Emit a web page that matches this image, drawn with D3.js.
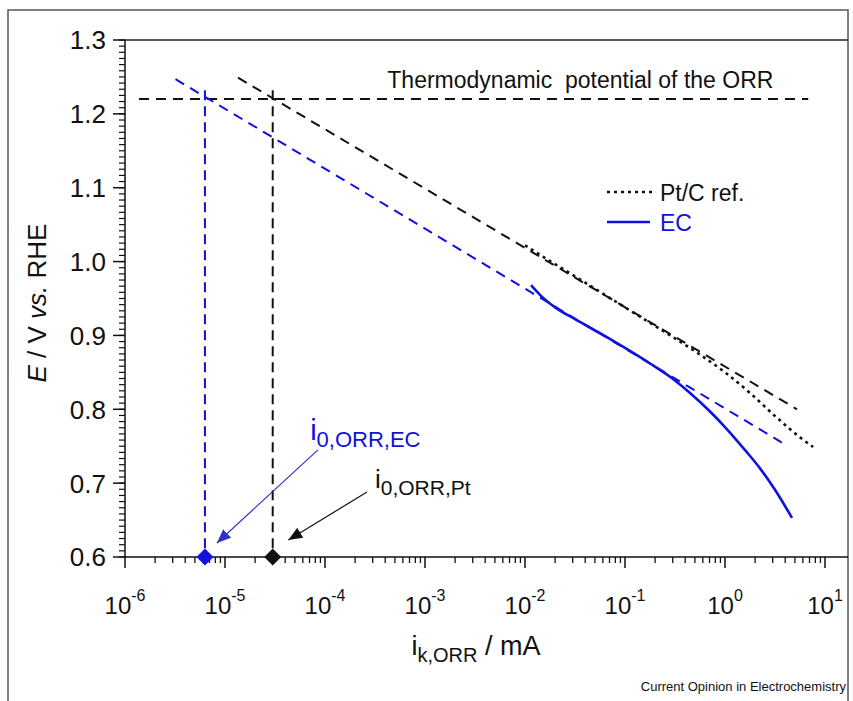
<!DOCTYPE html>
<html>
<head>
<meta charset="utf-8">
<script src="https://cdn.jsdelivr.net/npm/d3@7"></script>
<style>
  body { margin: 0; background: #fff; }
  svg text { font-family: "Liberation Sans", Arial, sans-serif; }
</style>
</head>
<body>
<div id="chart"></div>
<script>
// Pt/C reference, measured (dotted)
var ptCurrent = [0.0100, 0.0158, 0.0316, 0.0562, 0.100, 0.178, 0.316, 0.562, 1.00, 1.78, 3.16, 5.62, 7.6];
var ptPotential = [1.022, 1.005, 0.980, 0.959, 0.938, 0.917, 0.896, 0.874, 0.850, 0.822, 0.791, 0.762, 0.749];

// EC catalyst, measured (solid)
var ecCurrent = [0.0115, 0.0141, 0.0200, 0.0316, 0.0562, 0.100, 0.178, 0.282, 0.447, 0.708, 1.00, 1.58, 2.24, 3.16, 4.68];
var ecPotential = [0.968, 0.955, 0.938, 0.922, 0.903, 0.883, 0.862, 0.844, 0.822, 0.797, 0.776, 0.745, 0.720, 0.691, 0.653];

// Tafel extrapolations (dashed)
var tafelPtCurrent = [1.35e-5, 5.25];
var tafelPtPotential = [1.249, 0.800];
var tafelEcCurrent = [3.2e-6, 3.7];
var tafelEcPotential = [1.247, 0.755];

// thermodynamic potential line
var thermoCurrent = [1.38e-6, 6.8];
var thermoPotential = [1.22, 1.22];

// exchange currents
var i0Ec = 6.3e-6;
var i0Pt = 3.0e-5;
var dropPotential = [1.232, 0.6];

var xTickExps = [-6, -5, -4, -3, -2, -1, 0, 1];
var yTicks = [0.6, 0.7, 0.8, 0.9, 1.0, 1.1, 1.2, 1.3];

var width = 853, height = 701;
var blue = "#1010e0";

var svg = d3.select("#chart").append("svg")
    .attr("width", width)
    .attr("height", height);

var x = d3.scaleLog().domain([1e-6, 10]).range([125, 825]);
var y = d3.scaleLinear().domain([0.6, 1.3]).range([557, 40]);

/*****************  Frame **********************/

svg.append("rect")
    .attr("x", 8).attr("y", 10)
    .attr("width", 840).attr("height", 720)
    .attr("fill", "none")
    .attr("stroke", "#555")
    .attr("stroke-width", 1.5);

svg.append("line")
    .attr("x1", 125).attr("x2", 848)
    .attr("y1", 40).attr("y2", 40)
    .attr("stroke", "#222").attr("stroke-width", 1.5);

/*****************  Axes **********************/

var xMinor = [];
xTickExps.slice(0, -1).forEach(function (e) {
    for (var k = 2; k <= 9; k++) xMinor.push(k * Math.pow(10, e));
});

var xAxis = svg.append("g").attr("transform", "translate(0,557)");
xAxis.append("line")
    .attr("x1", 125).attr("x2", 848)
    .attr("stroke", "#111").attr("stroke-width", 1.5);
xAxis.selectAll(".minor").data(xMinor).enter().append("line")
    .attr("x1", function (d) { return x(d); })
    .attr("x2", function (d) { return x(d); })
    .attr("y1", 0).attr("y2", 6)
    .attr("stroke", "#111").attr("stroke-width", 1.3);
xAxis.selectAll(".major").data(xTickExps).enter().append("line")
    .attr("x1", function (d) { return x(Math.pow(10, d)); })
    .attr("x2", function (d) { return x(Math.pow(10, d)); })
    .attr("y1", 0).attr("y2", 11)
    .attr("stroke", "#111").attr("stroke-width", 1.5);

var xLabels = svg.selectAll(".xlab").data(xTickExps).enter().append("text")
    .attr("x", function (d) { return x(Math.pow(10, d)); })
    .attr("y", 614)
    .attr("text-anchor", "middle")
    .attr("font-size", 24)
    .attr("fill", "#111");
xLabels.append("tspan").text("10");
xLabels.append("tspan")
    .attr("font-size", 16)
    .attr("dy", -13)
    .text(function (d) { return d; });

var yMinor = d3.range(0, 85).map(function (i) { return 0.6 + i * 0.1 / 12; });

var yAxis = svg.append("g").attr("transform", "translate(125,0)");
yAxis.append("line")
    .attr("y1", 40).attr("y2", 557)
    .attr("stroke", "#111").attr("stroke-width", 1.5);
yAxis.selectAll(".minor").data(yMinor).enter().append("line")
    .attr("y1", function (d) { return y(d); })
    .attr("y2", function (d) { return y(d); })
    .attr("x1", -6).attr("x2", 0)
    .attr("stroke", "#111").attr("stroke-width", 1.2);
yAxis.selectAll(".major").data(yTicks).enter().append("line")
    .attr("y1", function (d) { return y(d); })
    .attr("y2", function (d) { return y(d); })
    .attr("x1", -12).attr("x2", 0)
    .attr("stroke", "#111").attr("stroke-width", 1.5);
yAxis.selectAll(".ylab").data(yTicks).enter().append("text")
    .attr("x", -19)
    .attr("y", function (d) { return y(d); })
    .attr("dy", "0.36em")
    .attr("text-anchor", "end")
    .attr("font-size", 26)
    .attr("fill", "#111")
    .text(function (d) { return d3.format(".1f")(d); });

/*****************  Axis titles **********************/

var yTitle = svg.append("text")
    .attr("transform", "translate(46,303) rotate(-90)")
    .attr("text-anchor", "middle")
    .attr("font-size", 26)
    .attr("fill", "#111");
yTitle.append("tspan").attr("font-style", "italic").text("E");
yTitle.append("tspan").text(" / V ");
yTitle.append("tspan").attr("font-style", "italic").text("vs.");
yTitle.append("tspan").text(" RHE");

var xTitle = svg.append("text")
    .attr("x", 476).attr("y", 655)
    .attr("text-anchor", "middle")
    .attr("font-size", 27)
    .attr("fill", "#111");
xTitle.append("tspan").text("i");
xTitle.append("tspan").attr("font-size", 20).attr("dy", 7).text("k,ORR");
xTitle.append("tspan").attr("dy", -7).text(" / mA");

svg.append("text")
    .attr("x", 846).attr("y", 691)
    .attr("text-anchor", "end")
    .attr("font-size", 13)
    .attr("fill", "#111")
    .text("Current Opinion in Electrochemistry");

/*****************  Lines **********************/

var line = d3.line()
    .x(function (d) { return x(d[0]); })
    .y(function (d) { return y(d[1]); });
var smooth = d3.line()
    .x(function (d) { return x(d[0]); })
    .y(function (d) { return y(d[1]); })
    .curve(d3.curveMonotoneX);

function pairs(a, b) {
    return a.map(function (v, i) { return [v, b[i]]; });
}

svg.append("path")
    .attr("d", line(pairs(thermoCurrent, thermoPotential)))
    .attr("fill", "none").attr("stroke", "#111")
    .attr("stroke-width", 2).attr("stroke-dasharray", "10,7");

svg.append("path")
    .attr("d", line(pairs(tafelPtCurrent, tafelPtPotential)))
    .attr("fill", "none").attr("stroke", "#111")
    .attr("stroke-width", 2).attr("stroke-dasharray", "10,7");

svg.append("path")
    .attr("d", line(pairs(tafelEcCurrent, tafelEcPotential)))
    .attr("fill", "none").attr("stroke", blue)
    .attr("stroke-width", 2).attr("stroke-dasharray", "10,7");

svg.append("path")
    .attr("d", line([[i0Ec, dropPotential[0]], [i0Ec, dropPotential[1]]]))
    .attr("fill", "none").attr("stroke", blue)
    .attr("stroke-width", 2).attr("stroke-dasharray", "10,6");

svg.append("path")
    .attr("d", line([[i0Pt, dropPotential[0]], [i0Pt, dropPotential[1]]]))
    .attr("fill", "none").attr("stroke", "#111")
    .attr("stroke-width", 2).attr("stroke-dasharray", "10,6");

svg.append("path")
    .attr("d", smooth(pairs(ptCurrent, ptPotential)))
    .attr("fill", "none").attr("stroke", "#111")
    .attr("stroke-width", 2.6).attr("stroke-dasharray", "3,4");

svg.append("path")
    .attr("d", smooth(pairs(ecCurrent, ecPotential)))
    .attr("fill", "none").attr("stroke", blue)
    .attr("stroke-width", 2.6);

/*****************  Diamonds **********************/

svg.selectAll(".dia").data([[i0Ec, blue], [i0Pt, "#111"]]).enter().append("path")
    .attr("d", "M0,-8.5 L8.5,0 L0,8.5 L-8.5,0 Z")
    .attr("transform", function (d) { return "translate(" + x(d[0]) + "," + y(0.6) + ")"; })
    .attr("fill", function (d) { return d[1]; });

/*****************  Annotations **********************/

var defs = svg.append("defs");
[["headBlue", "#3030c8"], ["headBlack", "#111"]].forEach(function (m) {
    defs.append("marker")
        .attr("id", m[0])
        .attr("viewBox", "0 0 12 10")
        .attr("refX", 12).attr("refY", 5)
        .attr("markerWidth", 14).attr("markerHeight", 12)
        .attr("markerUnits", "userSpaceOnUse")
        .attr("orient", "auto")
        .append("path").attr("d", "M0,0 L12,5 L0,10 Z")
        .attr("fill", m[1]);
});

svg.append("line")
    .attr("x1", x(8.5e-5)).attr("y1", y(0.745))
    .attr("x2", x(8.3e-6)).attr("y2", y(0.619))
    .attr("stroke", "#3030c8").attr("stroke-width", 1.2)
    .attr("marker-end", "url(#headBlue)");

svg.append("line")
    .attr("x1", x(2.63e-4)).attr("y1", y(0.688))
    .attr("x2", x(4.3e-5)).attr("y2", y(0.623))
    .attr("stroke", "#111").attr("stroke-width", 1.2)
    .attr("marker-end", "url(#headBlack)");

var ecLabel = svg.append("text")
    .attr("x", x(7.1e-5)).attr("y", y(0.7587))
    .attr("fill", blue).attr("font-size", 29);
ecLabel.append("tspan").text("i");
ecLabel.append("tspan").attr("font-size", 22).attr("dy", 7).text("0,ORR,EC");

var ptLabel = svg.append("text")
    .attr("x", x(3.16e-4)).attr("y", y(0.694))
    .attr("fill", "#111").attr("font-size", 26);
ptLabel.append("tspan").text("i");
ptLabel.append("tspan").attr("font-size", 21).attr("dy", 7).text("0,ORR,Pt");

svg.append("text")
    .attr("x", x(4.2e-4)).attr("y", y(1.235))
    .attr("font-size", 23).attr("fill", "#111")
    .attr("xml:space", "preserve")
    .text("Thermodynamic  potential of the ORR");

/*****************  Legend **********************/

var legend = svg.append("g");
legend.append("line")
    .attr("x1", 607).attr("x2", 652).attr("y1", 192).attr("y2", 192)
    .attr("stroke", "#111").attr("stroke-width", 2.6).attr("stroke-dasharray", "3,4");
legend.append("text")
    .attr("x", 660).attr("y", 201)
    .attr("font-size", 23).attr("fill", "#111")
    .text("Pt/C ref.");
legend.append("line")
    .attr("x1", 607).attr("x2", 650).attr("y1", 222).attr("y2", 222)
    .attr("stroke", blue).attr("stroke-width", 2.6);
legend.append("text")
    .attr("x", 660).attr("y", 231)
    .attr("font-size", 23).attr("fill", blue)
    .text("EC");
</script>
</body>
</html>
